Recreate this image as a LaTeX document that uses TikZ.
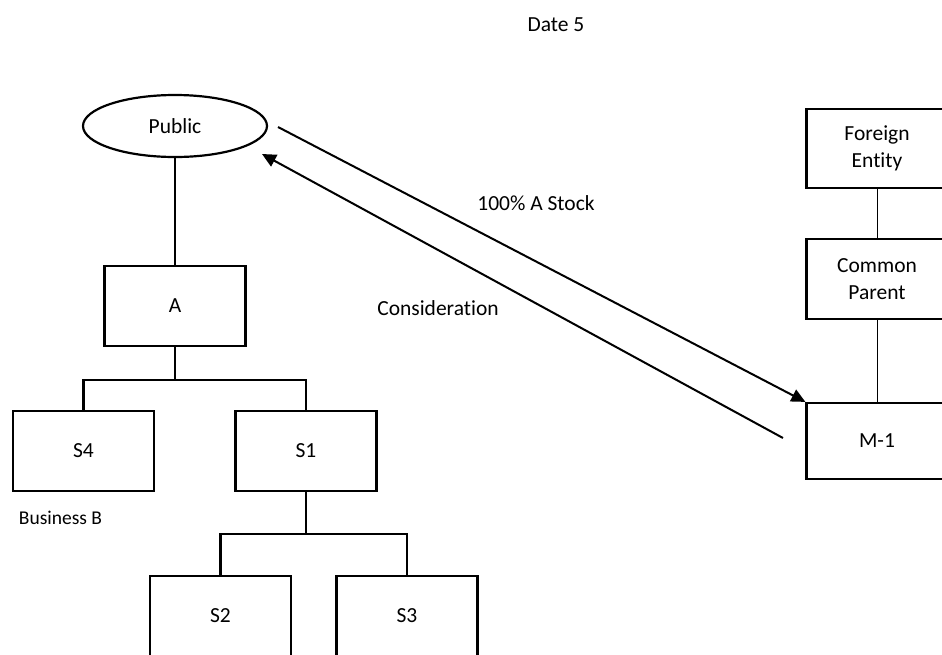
\documentclass[tikz,border=0pt]{standalone}
\usepackage{fontspec}
\setmainfont{Carlito}[Ligatures=NoCommon]
\usetikzlibrary{arrows.meta,shapes.geometric}
\begin{document}
\begin{tikzpicture}[x=1pt,y=-1pt,
  every node/.style={font=\fontsize{21.5}{27}\selectfont},
  entity/.style={draw,line width=2.2pt,minimum width=141pt,minimum height=80pt,inner sep=0pt,align=center},
  oval/.style={draw,line width=2.2pt,ellipse,minimum width=184pt,minimum height=62pt,inner sep=0pt},
  tree/.style={line width=2.2pt},
  thinlink/.style={line width=0.9pt},
  flow/.style={line width=2pt,-{Triangle[length=14pt,width=13pt]}},
  lbl/.style={inner sep=0pt}]
\useasboundingbox (0,0) rectangle (942,654);
\clip (0,0) rectangle (942,654);

% entities of the group
\node[oval] (pub) at (175,126) {Public};
\node[entity] (A) at (175,306) {A};
\node[entity] (S4) at (83.5,451) {S4};
\node[entity] (S1) at (306,451) {S1};
\node[entity] (S2) at (220.5,616) {S2};
\node[entity] (S3) at (407,616) {S3};

% foreign side
\node[entity,minimum height=79pt] (FE) at (877,148.5) {Foreign\\Entity};
\node[entity] (CP) at (877,279) {Common\\Parent};
\node[entity,minimum height=76pt] (M1) at (877,441) {M-1};

% ownership lines
\draw[tree] (pub.south) -- (A.north);
\draw[tree] (A.south) -- ++(0,33) coordinate (ja);
\draw[tree] (S4.north) |- (ja) -| (S1.north);
\draw[tree] (S1.south) -- ++(0,42) coordinate (js);
\draw[tree] (S2.north) |- (js) -| (S3.north);
\draw[thinlink] (FE.south) -- (CP.north);
\draw[thinlink] (CP.south) -- (M1.north);

% exchange of stock and consideration
\coordinate (stockstart) at (278,127);
\coordinate (constart) at (783,438);
\coordinate (conend) at (262,154);
\draw[flow] (stockstart) -- (M1.north west);
\draw[flow] (constart) -- (conend);

% labels
\node[lbl] (t100) at (536,203) {100\% A Stock};
\node[lbl] (tcons) at (438,308) {Consideration};
\node[lbl] (tdate) at (556,25) {Date 5};
\node[lbl,font=\fontsize{19.5}{24}\selectfont] (tbusb) at (60.5,518) {Business B};
\end{tikzpicture}
\end{document}
